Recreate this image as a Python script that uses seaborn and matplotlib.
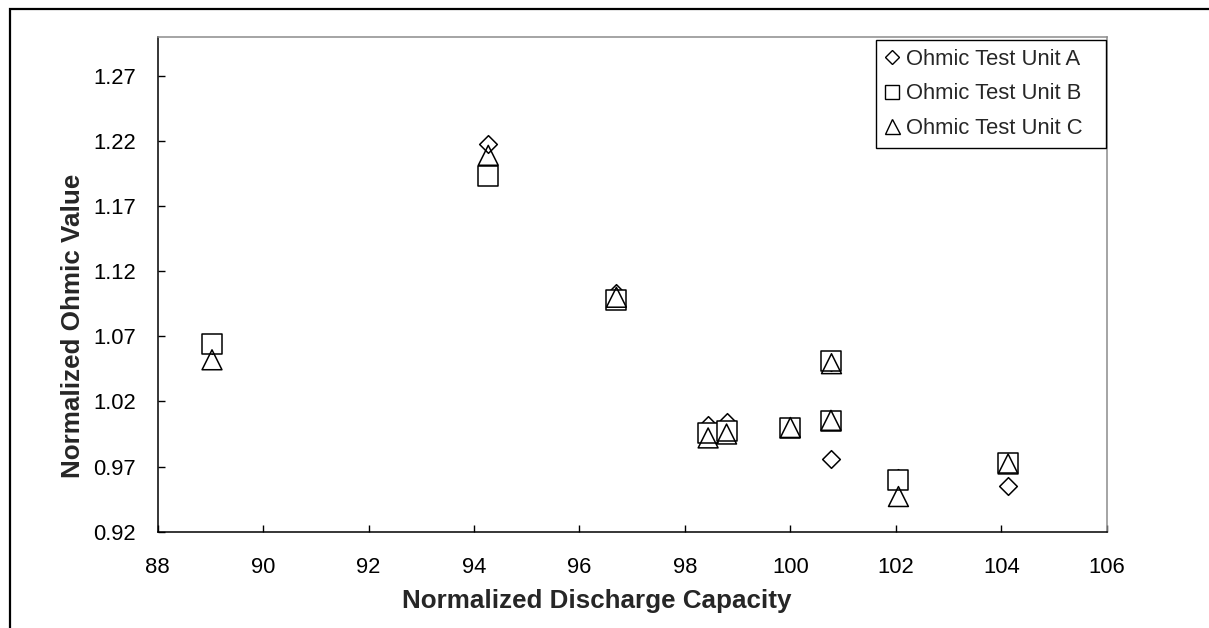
import matplotlib
matplotlib.use("Agg")
import matplotlib.pyplot as plt
from matplotlib.lines import Line2D
from matplotlib.patches import Rectangle
import seaborn as sns
import pandas as pd

# ---- data ----
capacity = [89.03, 94.27, 96.70, 98.44, 98.79, 100.00, 100.78, 100.77, 102.05, 104.13]
unit_a = [1.063, 1.218, 1.103, 1.002, 1.004, 1.000, 1.050, 0.976, 0.961, 0.955]
unit_b = [1.064, 1.193, 1.098, 0.996, 0.997, 1.000, 1.051, 1.005, 0.960, 0.9725]
unit_c = [1.052, 1.209, 1.100, 0.992, 0.995, 1.000, 1.049, 1.0055, 0.947, 0.972]
series_names = ["Ohmic Test Unit A", "Ohmic Test Unit B", "Ohmic Test Unit C"]
x_ticks = [88, 90, 92, 94, 96, 98, 100, 102, 104, 106]
y_ticks = [0.92, 0.97, 1.02, 1.07, 1.12, 1.17, 1.22, 1.27]
x_label = "Normalized Discharge Capacity"
y_label = "Normalized Ohmic Value"

sns.set_style("white")
plt.rcParams["font.family"] = ["Liberation Sans", "DejaVu Sans"]

W, H = 1209, 628
fig = plt.figure(figsize=(W / 100, H / 100), dpi=100)
ax_l, ax_r, ax_t, ax_b = 157.7, 1106.7, 36.8, 531.7
ax = fig.add_axes([ax_l / W, 1 - ax_b / H, (ax_r - ax_l) / W, (ax_b - ax_t) / H])
aw, ah = ax_r - ax_l, ax_b - ax_t

df = pd.DataFrame({"x": capacity, "A": unit_a, "B": unit_b, "C": unit_c})

styles = [
    ("A", "D", 81, "white", 3),
    ("B", "s", 196, "white", 4),
    ("C", "^", 205, "none", 5),
]
for col, mk, s, fc, z in styles:
    sns.scatterplot(data=df, x="x", y=col, marker=mk, s=s, facecolor=fc,
                    edgecolor="black", linewidth=1.1, ax=ax, zorder=z, legend=False)

ax.set_xlim(88, 106)
ax.set_ylim(0.92, 1.30)
ax.set_xticks(x_ticks)
ax.set_xticklabels([str(t) for t in x_ticks])
ax.set_yticks(y_ticks)
ax.set_yticklabels([f"{t:.2f}" for t in y_ticks])
ax.tick_params(axis="both", direction="in", length=5.3, width=1, color="black",
               labelsize=15.8, labelcolor="black")
ax.tick_params(axis="y", pad=15.5)
ax.tick_params(axis="x", pad=18.5)
ax.tick_params(left=True, bottom=True)

ax.set_xlabel(x_label, fontsize=18.7, fontweight="bold")
ax.set_ylabel(y_label, fontsize=18.7, fontweight="bold")
ax.xaxis.label.set_va("center")
ax.yaxis.label.set_va("center")
ax.xaxis.set_label_coords((597 - ax_l) / aw, (ax_b - 601) / ah)
ax.yaxis.set_label_coords((73.5 - ax_l) / aw, (ax_b - 326) / ah)

for side in ["left", "bottom"]:
    ax.spines[side].set_color("black")
    ax.spines[side].set_linewidth(1.1)
for side in ["top", "right"]:
    ax.spines[side].set_color("#8c8c8c")
    ax.spines[side].set_linewidth(1.1)
    ax.spines[side].set_visible(True)

handles = [
    Line2D([], [], marker="D", markersize=7.6, markerfacecolor="white",
           markeredgecolor="black", markeredgewidth=1.0, linestyle="none"),
    Line2D([], [], marker="s", markersize=9.9, markerfacecolor="white",
           markeredgecolor="black", markeredgewidth=1.0, linestyle="none"),
    Line2D([], [], marker="^", markersize=10.8, markerfacecolor="none",
           markeredgecolor="black", markeredgewidth=1.0, linestyle="none"),
]
lg_l, lg_r, lg_t = 876.3, 1105.7, 40.0
leg = ax.legend(handles, series_names, loc="upper left", mode="expand",
                bbox_to_anchor=((lg_l - ax_l) / aw, 0.3, (lg_r - lg_l) / aw, (ax_b - lg_t) / ah - 0.3),
                borderaxespad=0,
                fontsize=15.8, frameon=True, fancybox=False, shadow=False,
                handlelength=0.6, handletextpad=0.35, labelspacing=0.62,
                borderpad=0.4)
leg.get_frame().set_edgecolor("black")
leg.get_frame().set_linewidth(1.0)
leg.get_frame().set_alpha(1)

# outer chart frame (top and left visible, rest beyond the canvas)
top_f = 1 - 9 / H
fig.add_artist(Rectangle((10 / W, -0.2), 1.2, top_f + 0.2, transform=fig.transFigure,
                         fill=False, edgecolor="black", linewidth=1.6, clip_on=False))

fig.savefig("out.png", dpi=100)
